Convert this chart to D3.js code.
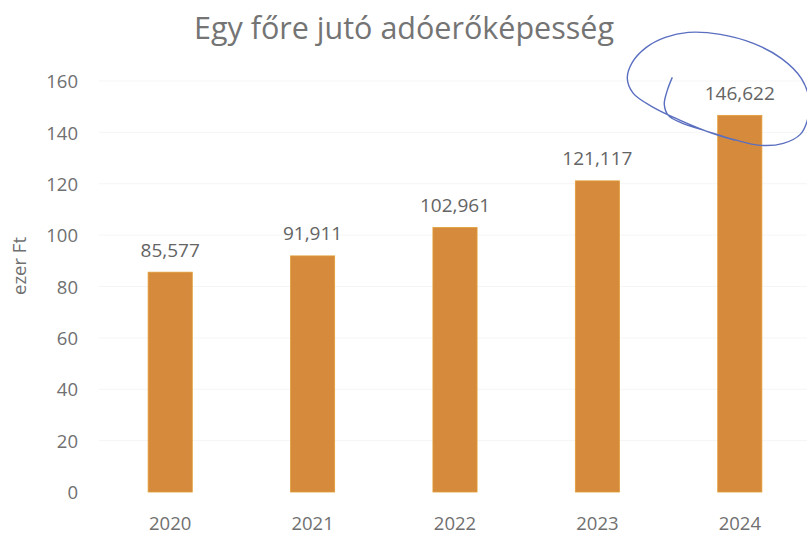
<!DOCTYPE html>
<html><head><meta charset="utf-8">
<script src="https://cdn.jsdelivr.net/npm/d3@7"></script>
<style>body{margin:0;background:#fff}</style>
</head><body>
<script>
const categories = ["2020","2021","2022","2023","2024"];
const values = [85.577, 91.911, 102.961, 121.117, 146.622];
const valueLabels = ["85,577","91,911","102,961","121,117","146,622"];
const yTicks = [0,20,40,60,80,100,120,140,160];
const title = "Egy főre jutó adóerőképesség";
const yTitle = "ezer Ft";

const W = 807, H = 535;
const font = "'Open Sans', sans-serif";
const textCol = "#707070";
const svg = d3.select("body").append("svg").attr("width", W).attr("height", H);

const x = d3.scaleBand().domain(categories).range([99, 811]).paddingInner(0.69).paddingOuter(0.345);
const y = d3.scaleLinear().domain([0,160]).range([492, 81]);

// faint gridlines
svg.append("g").selectAll("line").data(yTicks.slice(1)).join("line")
  .attr("x1", 99).attr("x2", 807).attr("y1", d=>y(d)).attr("y2", d=>y(d))
  .attr("stroke", "#f5f5f5").attr("stroke-width", 1);

// y axis
const yAxis = d3.axisLeft(y).tickValues(yTicks).tickSize(0).tickPadding(0);
const gy = svg.append("g").attr("transform", "translate(78,0)").call(yAxis);
gy.select(".domain").remove();
gy.selectAll("text").attr("font-family", font).attr("font-size", 18.5).attr("fill", textCol).attr("dy", "0.36em");

// x axis
const xAxis = d3.axisBottom(x).tickSize(0).tickPadding(0);
const gx = svg.append("g").attr("transform", "translate(0,492)").call(xAxis);
gx.select(".domain").remove();
gx.selectAll("text").attr("font-family", font).attr("font-size", 18.5).attr("fill", textCol)
  .attr("y", 38).attr("dy", 0);

// bars
svg.append("g").selectAll("rect").data(values).join("rect")
  .attr("x", (d,i)=>x(categories[i])).attr("width", x.bandwidth())
  .attr("y", d=>y(d)).attr("height", d=>y(0)-y(d))
  .attr("fill", "#d68a3c").attr("stroke", "#e29d35").attr("stroke-width", 0.8);

// value labels
svg.append("g").selectAll("text").data(values).join("text")
  .attr("x", (d,i)=>x(categories[i]) + x.bandwidth()/2)
  .attr("y", d=>y(d) - 15.5)
  .attr("text-anchor", "middle")
  .attr("font-family", font).attr("font-size", 19).attr("fill", "#646464")
  .text((d,i)=>valueLabels[i]);

// title
svg.append("text").attr("x", 404).attr("y", 39).attr("text-anchor", "middle")
  .attr("font-family", font).attr("font-size", 30.5).attr("fill", "#747474").text(title);

// y title
svg.append("text").attr("transform", "translate(26,266) rotate(-90)").attr("text-anchor", "middle")
  .attr("font-family", font).attr("font-size", 18.5).attr("fill", textCol).text(yTitle);

// hand-drawn circle annotation around the last label
const cx = x(categories[4]) + x.bandwidth()/2, cy = y(values[4]) - 22;
const pts = [[672,77],[667,90],[664,104],[668,115],[680,122],[710,132],[733,139],[760,145],[783,143],[800,134],[807,120],[809,100],[801,78],[781,58],[753,43],[720,34],[688,32],[665,37],[646,47],[632,62],[627,78],[633,93],[653,107],[680,120],[712,133],[735,140]]
  .map(p=>[p[0]-739.5, p[1]-93]);
const line = d3.line().curve(d3.curveCatmullRom.alpha(0.5)).x(p=>cx+p[0]).y(p=>cy+p[1]);
svg.append("path").attr("d", line(pts)).attr("fill","none").attr("stroke","#5b6fc0").attr("stroke-width",1.4);
</script>
</body></html>
